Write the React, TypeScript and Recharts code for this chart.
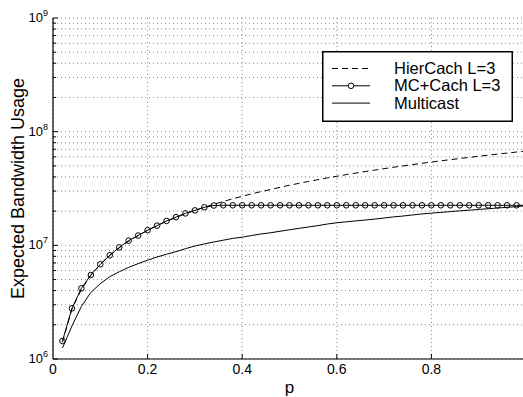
import React from 'react';
import { LineChart, Line, XAxis, YAxis, CartesianGrid, Legend } from 'recharts';

const pValues = [
  0.02, 0.04, 0.06, 0.08, 0.1, 0.12, 0.14, 0.16, 0.18, 0.2,
  0.22, 0.24, 0.26, 0.28, 0.3, 0.32, 0.34, 0.36, 0.38, 0.4,
  0.42, 0.44, 0.46, 0.48, 0.5, 0.52, 0.54, 0.56, 0.58, 0.6,
  0.62, 0.64, 0.66, 0.68, 0.7, 0.72, 0.74, 0.76, 0.78, 0.8,
  0.82, 0.84, 0.86, 0.88, 0.9, 0.92, 0.94, 0.96, 0.98, 1.0,
];

const hierCach = [
  1.4e6, 2.75e6, 4.1e6, 5.45e6, 6.8e6, 8.15e6, 9.5e6, 1.085e7, 1.22e7, 1.355e7,
  1.49e7, 1.625e7, 1.76e7, 1.895e7, 2.03e7, 2.16e7, 2.3e7, 2.43e7, 2.57e7, 2.7e7,
  2.84e7, 2.97e7, 3.1e7, 3.24e7, 3.38e7, 3.51e7, 3.65e7, 3.78e7, 3.92e7, 4.05e7,
  4.19e7, 4.32e7, 4.46e7, 4.59e7, 4.73e7, 4.86e7, 5.0e7, 5.13e7, 5.27e7, 5.4e7,
  5.54e7, 5.67e7, 5.81e7, 5.94e7, 6.08e7, 6.21e7, 6.35e7, 6.48e7, 6.62e7, 6.75e7,
];

const mcCach = [
  1.44e6, 2.79e6, 4.19e6, 5.48e6, 6.81e6, 8.17e6, 9.6e6, 1.1e7, 1.22e7, 1.36e7,
  1.49e7, 1.64e7, 1.77e7, 1.91e7, 2.03e7, 2.16e7, 2.24e7, 2.25e7, 2.25e7, 2.25e7,
  2.25e7, 2.25e7, 2.25e7, 2.25e7, 2.25e7, 2.25e7, 2.25e7, 2.25e7, 2.25e7, 2.25e7,
  2.25e7, 2.25e7, 2.25e7, 2.25e7, 2.25e7, 2.25e7, 2.25e7, 2.25e7, 2.25e7, 2.25e7,
  2.25e7, 2.25e7, 2.25e7, 2.25e7, 2.25e7, 2.25e7, 2.25e7, 2.25e7, 2.25e7, 2.25e7,
];

const multicast = [
  1.25e6, 1.95e6, 2.9e6, 3.85e6, 4.6e6, 5.3e6, 5.85e6, 6.4e6, 6.9e6, 7.4e6,
  7.9e6, 8.35e6, 8.8e6, 9.35e6, 9.85e6, 1.03e7, 1.07e7, 1.11e7, 1.15e7, 1.18e7,
  1.22e7, 1.26e7, 1.29e7, 1.33e7, 1.37e7, 1.41e7, 1.45e7, 1.49e7, 1.54e7, 1.58e7,
  1.61e7, 1.64e7, 1.67e7, 1.7e7, 1.74e7, 1.78e7, 1.81e7, 1.85e7, 1.89e7, 1.92e7,
  1.95e7, 1.98e7, 2.01e7, 2.04e7, 2.07e7, 2.1e7, 2.13e7, 2.16e7, 2.19e7, 2.23e7,
];

const xTicks = [0, 0.2, 0.4, 0.6, 0.8];
const xTickLabels = ['0', '0.2', '0.4', '0.6', '0.8'];

const yTicks = [
  1e6, 2e6, 3e6, 4e6, 5e6, 6e6, 7e6, 8e6, 9e6,
  1e7, 2e7, 3e7, 4e7, 5e7, 6e7, 7e7, 8e7, 9e7,
  1e8, 2e8, 3e8, 4e8, 5e8, 6e8, 7e8, 8e8, 9e8,
  1e9,
];

const seriesNames = ['HierCach L=3', 'MC+Cach L=3', 'Multicast'];
const xLabel = 'p';
const yLabel = 'Expected Bandwidth Usage';

const FONT = '"Liberation Sans", Arial, Helvetica, sans-serif';

const data = pValues.map((p, i) => ({
  p,
  hier: hierCach[i],
  mc: mcCach[i],
  multi: multicast[i],
}));

const X_MARGIN = 4;
const Y_MARGIN = 5;

const XTick = (props: any) => {
  const { x, y, payload } = props;
  const axisY = y - X_MARGIN;
  const idx = xTicks.indexOf(payload.value);
  const label = idx >= 0 ? xTickLabels[idx] : String(payload.value);
  return (
    <g>
      {payload.value !== 0 && (
        <line x1={x} x2={x} y1={axisY} y2={axisY - 5} stroke="#000" strokeWidth={1} />
      )}
      <text x={x} y={axisY + 15} textAnchor="middle" fontFamily={FONT} fontSize={14} fill="#000">
        {label}
      </text>
    </g>
  );
};

const YTick = (props: any) => {
  const { x, y, payload } = props;
  const v = payload.value;
  const exp = Math.round(Math.log10(v));
  const isMajor = Math.abs(v / Math.pow(10, exp) - 1) < 1e-6;
  const axisX = x + Y_MARGIN;
  return (
    <g>
      <line x1={axisX} x2={axisX + (isMajor ? 5 : 3)} y1={y} y2={y} stroke="#000" strokeWidth={1} />
      {isMajor && (
        <text x={x} y={y + 4} textAnchor="end" fontFamily={FONT} fontSize={13} fill="#000">
          10
          <tspan dy={-6} fontSize={9}>
            {exp}
          </tspan>
        </text>
      )}
    </g>
  );
};

const McDot = (props: any) => {
  const { cx, cy, payload, index } = props;
  if (payload.p > 0.99) return <g key={`d${index}`} />;
  return <circle key={`d${index}`} cx={cx} cy={cy} r={2.8} fill="none" stroke="#000" strokeWidth={1} />;
};

const LegendBox = () => {
  const rows = [
    { name: seriesNames[0], dash: '6 4', marker: false },
    { name: seriesNames[1], dash: undefined, marker: true },
    { name: seriesNames[2], dash: undefined, marker: false },
  ];
  return (
    <svg width={191} height={71} style={{ display: 'block' }}>
      <rect x={0.75} y={0.75} width={189.5} height={69.5} fill="#fff" stroke="#000" strokeWidth={1.5} />
      {rows.map((r, i) => {
        const cy = 17.5 + i * 17.3;
        return (
          <g key={r.name}>
            <line x1={10} x2={48} y1={cy} y2={cy} stroke="#000" strokeWidth={1} strokeDasharray={r.dash} />
            {r.marker && <circle cx={29} cy={cy} r={2.8} fill="#fff" stroke="#000" strokeWidth={1} />}
            <text x={72} y={cy + 5.5} fontFamily={FONT} fontSize={16.5} fill="#000">
              {r.name}
            </text>
          </g>
        );
      })}
    </svg>
  );
};

export default function App() {
  return (
    <div style={{ position: 'absolute', left: 0, top: 0, width: 523, height: 397, overflow: 'hidden', background: '#fff' }}>
      <LineChart
        width={530}
        height={397}
        data={data}
        margin={{ top: 18, right: 4, bottom: 0, left: 0 }}
      >
        <CartesianGrid stroke="#888" strokeDasharray="1 3" strokeWidth={1} />
        <XAxis
          type="number"
          dataKey="p"
          domain={[0, 1]}
          ticks={xTicks}
          allowDataOverflow
          height={38}
          tickSize={0}
          tickMargin={X_MARGIN}
          tick={<XTick />}
          axisLine={{ stroke: '#000', strokeWidth: 1.2 }}
          tickLine={false}
          interval={0}
          label={{
            content: (p: any) => {
              const vb = p.viewBox;
              return (
                <text x={vb.x + vb.width / 2} y={vb.y + 34} textAnchor="middle" fontFamily={FONT} fontSize={17} fill="#000">
                  {xLabel}
                </text>
              );
            },
          }}
        />
        <YAxis
          type="number"
          scale="log"
          domain={[1e6, 1e9]}
          ticks={yTicks}
          allowDataOverflow
          width={53}
          tickSize={0}
          tickMargin={Y_MARGIN}
          tick={<YTick />}
          axisLine={{ stroke: '#000', strokeWidth: 1.2 }}
          tickLine={false}
          interval={0}
          label={{
            content: (p: any) => {
              const vb = p.viewBox;
              const cx = 24;
              const cy = vb.y + vb.height / 2;
              return (
                <text
                  x={cx}
                  y={cy}
                  textAnchor="middle"
                  transform={`rotate(-90 ${cx} ${cy})`}
                  fontFamily={FONT}
                  fontSize={18}
                  fill="#000"
                >
                  {yLabel}
                </text>
              );
            },
          }}
        />
        <Legend
          layout="horizontal"
          verticalAlign="middle"
          align="center"
          wrapperStyle={{ position: 'absolute', left: 322, top: 51, width: 191, height: 71 }}
          content={() => <LegendBox />}
        />
        <Line
          type="linear"
          dataKey="hier"
          name={seriesNames[0]}
          stroke="#000"
          strokeWidth={1}
          strokeDasharray="6 4"
          dot={false}
          isAnimationActive={false}
        />
        <Line
          type="linear"
          dataKey="multi"
          name={seriesNames[2]}
          stroke="#000"
          strokeWidth={1}
          dot={false}
          isAnimationActive={false}
        />
        <Line
          type="linear"
          dataKey="mc"
          name={seriesNames[1]}
          stroke="#000"
          strokeWidth={1}
          dot={<McDot />}
          isAnimationActive={false}
        />
      </LineChart>
    </div>
  );
}
